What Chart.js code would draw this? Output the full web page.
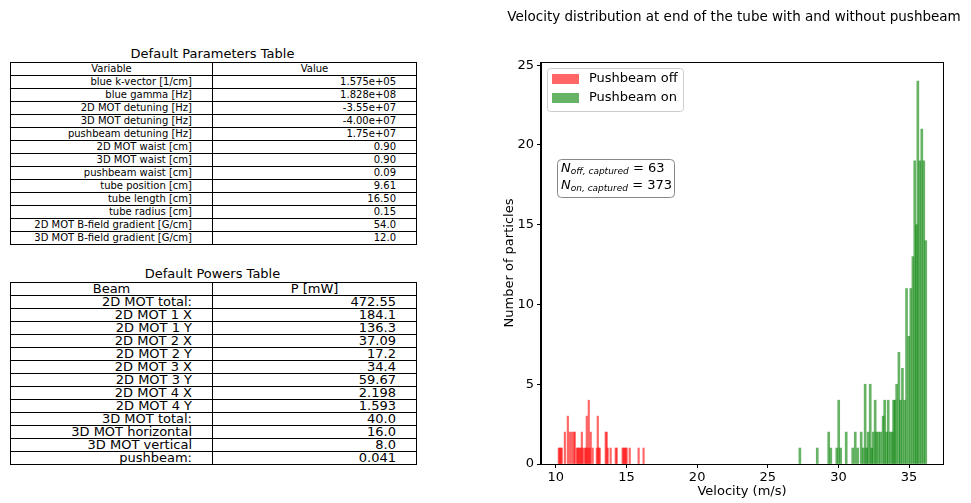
<!DOCTYPE html>
<html>
<head>
<meta charset="utf-8">
<script src="https://cdn.jsdelivr.net/npm/chart.js@4.4.1/dist/chart.umd.min.js"></script>
<style>
html,body{margin:0;padding:0;background:#fff;width:971px;height:503px;overflow:hidden;font-family:"DejaVu Sans",sans-serif;color:#000}
.ttl{position:absolute;left:10px;width:405px;text-align:center;font-size:13px;line-height:15px;white-space:nowrap}
table{position:absolute;left:10px;width:406px;border-collapse:collapse;table-layout:fixed}
td{border:1px solid #000;padding:0 20px 0 0;height:12px;line-height:12px;text-align:right;white-space:nowrap;overflow:visible;vertical-align:middle}
td.h{text-align:center;padding:0}
#params td{font-size:10px}
#powers td{font-size:13px}
#wrap{position:absolute;left:497px;top:0;width:474px;height:503px}
</style>
</head>
<body>
<div class="ttl" style="top:46px">Default Parameters Table</div>
<table id="params"><colgroup><col style="width:202px"><col style="width:204px"></colgroup><tbody></tbody></table>
<div class="ttl" style="top:266px">Default Powers Table</div>
<table id="powers"><colgroup><col style="width:202px"><col style="width:204px"></colgroup><tbody></tbody></table>
<div id="wrap"><canvas id="c" width="474" height="503"></canvas></div>
<script>
// ---- table data ----
const paramHeader = ['Variable', 'Value'];
const paramNames = ['blue k-vector [1/cm]','blue gamma [Hz]','2D MOT detuning [Hz]','3D MOT detuning [Hz]','pushbeam detuning [Hz]','2D MOT waist [cm]','3D MOT waist [cm]','pushbeam waist [cm]','tube position [cm]','tube length [cm]','tube radius [cm]','2D MOT B-field gradient [G/cm]','3D MOT B-field gradient [G/cm]'];
const paramValues = ['1.575e+05','1.828e+08','-3.55e+07','-4.00e+07','1.75e+07','0.90','0.90','0.09','9.61','16.50','0.15','54.0','12.0'];
const powerHeader = ['Beam', 'P [mW]'];
const beamNames = ['2D MOT total:','2D MOT 1 X','2D MOT 1 Y','2D MOT 2 X','2D MOT 2 Y','2D MOT 3 X','2D MOT 3 Y','2D MOT 4 X','2D MOT 4 Y','3D MOT total:','3D MOT horizontal','3D MOT vertical','pushbeam:'];
const beamPowers = ['472.55','184.1','136.3','37.09','17.2','34.4','59.67','2.198','1.593','40.0','16.0','8.0','0.041'];

// ---- histogram data ----
const offVelocity = [10.21,10.28,10.35,10.42,10.64,10.85,10.99,11.13,11.27,11.34,11.48,11.55,11.62,11.69,11.77,11.84,11.91,12.05,12.12,12.19,12.26,12.33,12.40,12.47,12.61,12.90,12.97,13.04,13.11,13.53,13.60,13.67,13.88,14.24,14.31,14.73,14.80,14.87,14.94,15.01,15.23,15.86,16.21];
const offCounts   = [1,1,1,1,2,3,2,2,2,2,1,1,1,1,1,2,1,1,1,3,1,4,1,2,1,1,3,1,1,2,2,1,1,1,1,1,1,1,1,1,1,1,1];
const onVelocity = [27.27,28.50,29.31,29.46,29.88,30.02,30.16,30.55,31.01,31.19,31.36,31.61,31.75,31.89,32.00,32.10,32.25,32.35,32.46,32.60,32.70,32.85,32.99,33.16,33.27,33.41,33.52,33.66,33.80,33.90,34.00,34.12,34.28,34.39,34.53,34.68,34.82,34.98,35.12,35.27,35.40,35.52,35.62,35.76,35.90,36.04,36.18];
const onCounts   = [1,1,2,1,1,4,1,2,1,2,1,2,1,5,1,2,5,1,2,4,2,2,2,3,4,2,4,2,2,4,4,5,7,4,6,4,11,8,11,13,19,15,24,19,21,19,14];
const xTicks = [10,15,20,25,30,35];
const yTicks = [0,5,10,15,20,25];
const nOff = 63, nOn = 373;
const seriesLabels = ['Pushbeam off','Pushbeam on'];
const chartTitle = 'Velocity distribution at end of the tube with and without pushbeam';

function fillTable(id, header, names, values){
  const tb = document.querySelector('#'+id+' tbody');
  let html = '<tr><td class="h">'+header[0]+'</td><td class="h">'+header[1]+'</td></tr>';
  names.forEach((n,i)=>{ html += '<tr><td>'+n+'</td><td>'+values[i]+'</td></tr>'; });
  tb.innerHTML = html;
}
fillTable('params', paramHeader, paramNames, paramValues);
fillTable('powers', powerHeader, beamNames, beamPowers);
document.getElementById('params').style.top = '62px';
document.getElementById('powers').style.top = '282px';

const FONT = '"DejaVu Sans", sans-serif';
Chart.defaults.font.family = FONT;
Chart.defaults.color = '#000';
const RED = 'rgba(255,0,0,0.6)';
const GREEN = 'rgba(0,128,0,0.6)';

function rrect(ctx,x,y,w,h,r){
  ctx.beginPath();
  ctx.moveTo(x+r,y); ctx.lineTo(x+w-r,y); ctx.quadraticCurveTo(x+w,y,x+w,y+r);
  ctx.lineTo(x+w,y+h-r); ctx.quadraticCurveTo(x+w,y+h,x+w-r,y+h);
  ctx.lineTo(x+r,y+h); ctx.quadraticCurveTo(x,y+h,x,y+h-r);
  ctx.lineTo(x,y+r); ctx.quadraticCurveTo(x,y,x+r,y); ctx.closePath();
}

const overlay = {
  id:'overlay',
  afterDraw(chart){
    const ctx = chart.ctx, a = chart.chartArea;
    ctx.save();
    // frame
    ctx.strokeStyle = '#000'; ctx.lineWidth = 1;
    ctx.strokeRect(Math.round(a.left)-0.5, Math.round(a.top)+0.5, Math.round(a.right-a.left)+1, Math.round(a.bottom-a.top));
    // legend
    const lx = a.left+6, ly = a.top+6;
    rrect(ctx, lx+0.5, ly+0.5, 136, 43, 3);
    ctx.fillStyle = 'rgba(255,255,255,0.8)'; ctx.fill();
    ctx.strokeStyle = '#cccccc'; ctx.stroke();
    const cols = [RED, GREEN];
    ctx.font = '13px '+FONT; ctx.textBaseline = 'middle'; ctx.textAlign = 'left';
    seriesLabels.forEach((t,i)=>{
      ctx.fillStyle = cols[i];
      ctx.fillRect(lx+5, ly+6+i*19, 27, 10);
      ctx.fillStyle = '#000';
      ctx.fillText(t, lx+42, ly+11+i*19);
    });
    // annotation box
    const bx = a.left+16, by = a.top+97;
    rrect(ctx, bx+0.5, by+0.5, 117, 38, 4);
    ctx.fillStyle = '#fff'; ctx.fill();
    ctx.strokeStyle = '#888'; ctx.stroke();
    const lines = [['off, captured', nOff], ['on, captured', nOn]];
    lines.forEach((ln,i)=>{
      let x = bx+4; const y = by+10+i*17;
      ctx.fillStyle = '#000';
      ctx.font = 'italic 13px '+FONT; ctx.fillText('N', x, y); x += ctx.measureText('N').width;
      ctx.font = 'italic 9px '+FONT; ctx.fillText(ln[0], x, y+3); x += ctx.measureText(ln[0]).width;
      ctx.font = '13px '+FONT; ctx.fillText(' = '+ln[1], x, y);
    });
    ctx.restore();
  }
};

new Chart(document.getElementById('c'), {
  type:'bar',
  data:{datasets:[
    {label:seriesLabels[0], data:offVelocity.map((v,i)=>({x:v,y:offCounts[i]})), backgroundColor:RED, barThickness:1.5, grouped:false},
    {label:seriesLabels[1], data:onVelocity.map((v,i)=>({x:v,y:onCounts[i]})), backgroundColor:GREEN, barThickness:2, grouped:false}
  ]},
  options:{
    responsive:false, animation:false, devicePixelRatio:1,
    layout:{padding:0},
    plugins:{
      legend:{display:false}, tooltip:{enabled:false},
      title:{display:true, text:chartTitle, color:'#000', font:{size:13.5, weight:'normal'}, padding:{top:9,bottom:36.8}}
    },
    scales:{
      x:{type:'linear', min:8.95, max:37.4, offset:false,
        grid:{display:true, offset:false, drawOnChartArea:false, drawTicks:true, tickLength:4, color:'#000'},
        border:{display:true, color:'#000'},
        ticks:{color:'#000', font:{size:13}, padding:2, maxRotation:0, autoSkip:false},
        title:{display:true, text:'Velocity (m/s)', color:'#000', font:{size:13}, padding:{top:0,bottom:4}},
        afterBuildTicks:s=>{s.ticks = xTicks.map(v=>({value:v}));},
        afterFit:s=>{s.height = 39;}
      },
      y:{type:'linear', min:0, max:25.2,
        grid:{display:true, offset:false, drawOnChartArea:false, drawTicks:true, tickLength:4, color:'#000'},
        border:{display:true, color:'#000'},
        ticks:{color:'#000', font:{size:13}, padding:3},
        title:{display:true, text:'Number of particles', color:'#000', font:{size:13}, padding:{top:5,bottom:0}},
        afterBuildTicks:s=>{s.ticks = yTicks.map(v=>({value:v}));},
        afterFit:s=>{s.width = 44;}
      },
      yr:{type:'linear', position:'right', min:0, max:1, display:true,
        grid:{display:false}, border:{display:false}, ticks:{display:false},
        afterFit:s=>{s.width = 28;}
      }
    }
  },
  plugins:[overlay]
});
</script>
</body>
</html>
